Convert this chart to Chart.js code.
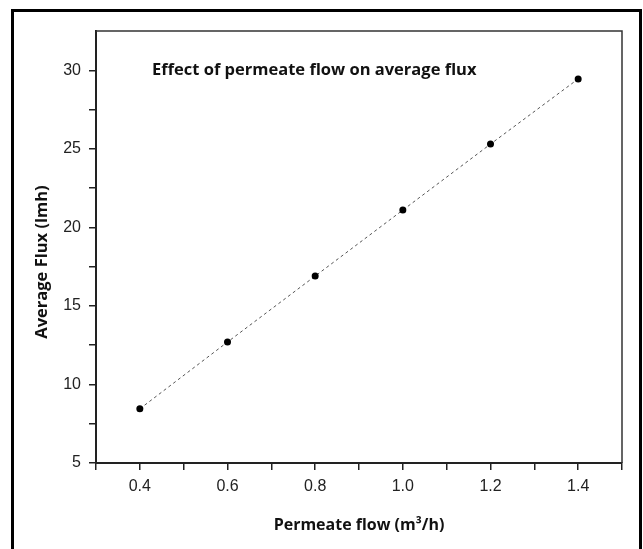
<!DOCTYPE html>
<html>
<head>
<meta charset="utf-8">
<script src="https://cdn.jsdelivr.net/npm/chart.js@4.4.1/dist/chart.umd.min.js"></script>
<style>
    body { margin: 0; background: #fff; overflow: hidden; }
    #wrap { position: relative; width: 643px; height: 549px; }
    #frame { position: absolute; left: 11px; top: 9px; width: 631px; height: 600px; border: 3px solid #000; box-sizing: border-box; }
    #myChart { position: absolute; left: 0; top: 0; }
</style>
</head>
<body>
<div id="wrap">
    <div id="frame"></div>
    <canvas id="myChart" width="643" height="549"></canvas>
</div>
<script>
// values
const flowValues = [0.4, 0.6, 0.8, 1.0, 1.2, 1.4];
const fluxValues = [8.45, 12.7, 16.9, 21.1, 25.3, 29.45];

const chartTitle = 'Effect of permeate flow on average flux';
const xTitle = 'Permeate flow (m\u00B3/h)';
const yTitle = 'Average Flux (lmh)';

var points = [];
for (var i = 0; i < flowValues.length; i++) {
    points.push({ x: flowValues[i], y: fluxValues[i] });
}

const axisColor = '#222';
const tickFont = { family: 'Liberation Sans, Arial, sans-serif', size: 16 };
const boldFont = 'bold 16.5px "Open Sans", sans-serif';

// box round the plot + the titles inside the chart
const extras = {
    id: 'extras',
    afterDraw(chart) {
        const ctx = chart.ctx;
        const a = chart.chartArea;
        ctx.save();
        ctx.strokeStyle = '#333';
        ctx.lineWidth = 1.5;
        ctx.beginPath();
        ctx.moveTo(a.left, a.top);
        ctx.lineTo(a.right, a.top);
        ctx.lineTo(a.right, a.bottom);
        ctx.stroke();

        ctx.fillStyle = '#111';
        ctx.font = boldFont;
        ctx.textBaseline = 'middle';
        ctx.textAlign = 'left';
        ctx.fillText(chartTitle, a.left + 56, a.top + 39);

        ctx.translate(42, 262);
        ctx.rotate(-Math.PI / 2);
        ctx.textAlign = 'center';
        ctx.fillText(yTitle, 0, 0);
        ctx.restore();
    }
};

const config = {
    type: 'line',
    data: {
        datasets: [{
            data: points,
            borderColor: '#555',
            borderWidth: 1,
            borderDash: [3, 3],
            pointRadius: 3.5,
            pointBackgroundColor: '#000',
            pointBorderColor: '#000',
            pointBorderWidth: 0,
            tension: 0
        }]
    },
    options: {
        responsive: false,
        animation: false,
        layout: { padding: { left: 0, top: 31, right: 21, bottom: 0 } },
        plugins: { legend: { display: false }, tooltip: { enabled: false } },
        scales: {
            x: {
                type: 'linear',
                min: 0.3,
                max: 1.5,
                afterFit: function(scale) { scale.height = 86; },
                border: { color: axisColor, width: 2 },
                grid: { drawOnChartArea: false, tickLength: 7, color: axisColor, lineWidth: 1.5 },
                ticks: {
                    stepSize: 0.1,
                    autoSkip: false,
                    maxRotation: 0,
                    padding: 7,
                    color: '#222',
                    font: tickFont,
                    callback: function(v) {
                        return Math.round(v * 10) % 2 === 0 ? v.toFixed(1) : '';
                    }
                },
                title: {
                    display: true,
                    text: xTitle,
                    color: '#111',
                    font: { family: '"Open Sans", sans-serif', size: 16, weight: 'bold' },
                    padding: { top: 0, bottom: 14 }
                }
            },
            y: {
                min: 5,
                max: 32.5,
                afterFit: function(scale) { scale.width = 96; },
                border: { color: axisColor, width: 2 },
                grid: {
                    drawOnChartArea: false,
                    tickLength: 7,
                    lineWidth: 1.5,
                    color: function(c) { return c.tick && c.tick.value > 32 ? 'rgba(0,0,0,0)' : axisColor; }
                },
                ticks: {
                    stepSize: 2.5,
                    autoSkip: false,
                    padding: 8,
                    color: '#222',
                    font: tickFont,
                    callback: function(v) {
                        return v % 5 === 0 ? String(v) : '';
                    }
                }
            }
        }
    },
    plugins: [extras]
};

const myChart = new Chart(document.getElementById('myChart'), config);
</script>
</body>
</html>
